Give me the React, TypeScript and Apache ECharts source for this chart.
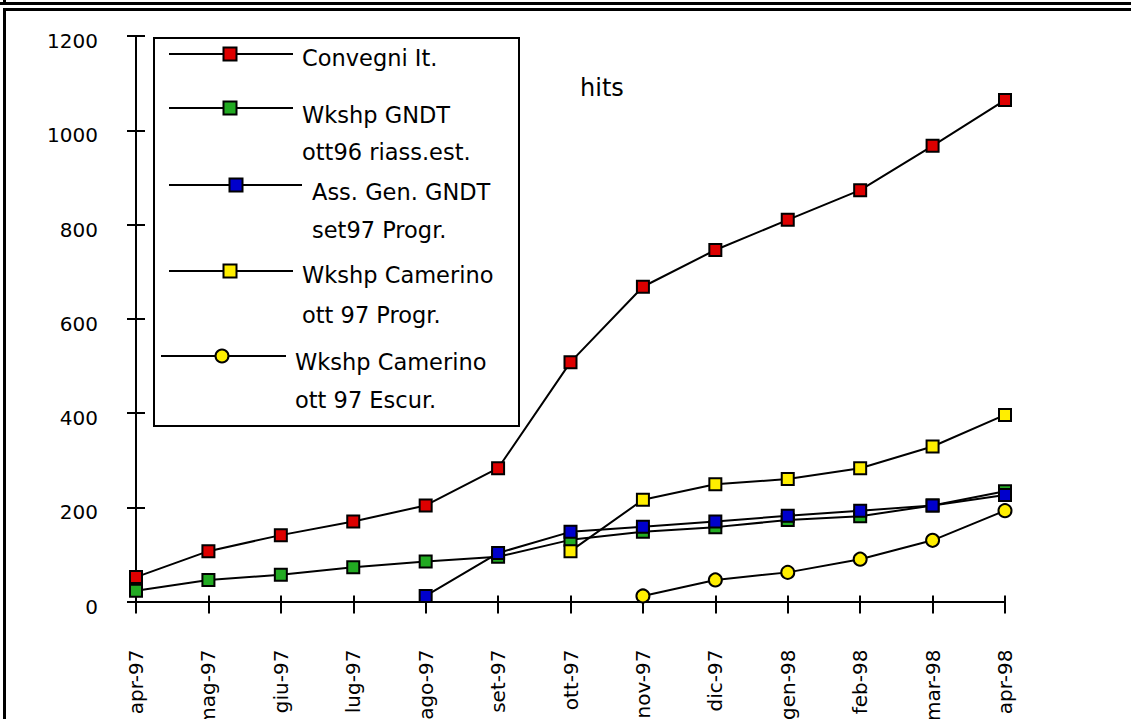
import React, { useEffect, useRef } from "react";
import * as echarts from "echarts";

const categories = ["apr-97", "mag-97", "giu-97", "lug-97", "ago-97", "set-97", "ott-97", "nov-97", "dic-97", "gen-98", "feb-98", "mar-98", "apr-98"];
const convegni = [52, 107, 141, 170, 204, 283, 508, 668, 746, 810, 873, 967, 1064];
const gndt = [23, 46, 57, 73, 85, 95, 131, 148, 158, 173, 181, 204, 234];
const assGen = [null, null, null, null, 12, 103, 148, 159, 170, 182, 193, 204, 226];
const camProgr = [null, null, null, null, null, null, 107, 216, 249, 260, 283, 329, 396];
const camEscur = [null, null, null, null, null, null, null, 12, 46, 62, 90, 130, 193];
const yTicks = { min: 0, max: 1200, interval: 200 };

const seriesDefs = [
  { name: "Convegni It.", data: convegni, color: "#dd0000", symbol: "rect" },
  { name: "Wkshp GNDT ott96 riass.est.", data: gndt, color: "#22aa22", symbol: "rect" },
  { name: "Ass. Gen. GNDT set97 Progr.", data: assGen, color: "#0000cc", symbol: "rect" },
  { name: "Wkshp Camerino ott 97 Progr.", data: camProgr, color: "#ffee00", symbol: "rect" },
  { name: "Wkshp Camerino ott 97 Escur.", data: camEscur, color: "#ffee00", symbol: "circle" },
];

const legendRows = [
  { lines: ["Convegni It."], lineY: 54, x1: 169, x2: 293, mx: 230, tx: 302, ty: [58] },
  { lines: ["Wkshp GNDT", "ott96 riass.est."], lineY: 108, x1: 169, x2: 293, mx: 230, tx: 302, ty: [115, 152] },
  { lines: ["Ass. Gen. GNDT", "set97 Progr."], lineY: 185, x1: 169, x2: 302, mx: 236, tx: 312, ty: [192, 230] },
  { lines: ["Wkshp Camerino", "ott 97 Progr."], lineY: 271, x1: 169, x2: 293, mx: 230, tx: 302, ty: [275, 315] },
  { lines: ["Wkshp Camerino", "ott 97 Escur."], lineY: 356, x1: 161, x2: 286, mx: 222, tx: 295, ty: [362, 400] },
];

const FONT = "DejaVu Sans";

export default function App() {
  const ref = useRef<HTMLDivElement>(null);
  useEffect(() => {
    document.body.style.margin = "0";
    const chart = echarts.init(ref.current!, null, { renderer: "svg" });
    const graphics: any[] = [];
    // frame
    graphics.push({ type: "line", shape: { x1: 0, y1: 3.5, x2: 1131, y2: 3.5 }, style: { stroke: "#000", lineWidth: 3 } });
    graphics.push({ type: "line", shape: { x1: 4.5, y1: 0, x2: 4.5, y2: 4 }, style: { stroke: "#000", lineWidth: 3 } });
    graphics.push({ type: "line", shape: { x1: 3, y1: 9.5, x2: 1131, y2: 9.5 }, style: { stroke: "#000", lineWidth: 3 } });
    graphics.push({ type: "line", shape: { x1: 4.5, y1: 8, x2: 4.5, y2: 719 }, style: { stroke: "#000", lineWidth: 3 } });
    // legend box
    graphics.push({ type: "rect", shape: { x: 154, y: 38, width: 365, height: 388 }, style: { fill: "#fff", stroke: "#000", lineWidth: 2 }, z: 10 });
    legendRows.forEach((r, i) => {
      const def = seriesDefs[i];
      graphics.push({ type: "line", shape: { x1: r.x1, y1: r.lineY, x2: r.x2, y2: r.lineY }, style: { stroke: "#000", lineWidth: 2 }, z: 11 });
      if (def.symbol === "circle") {
        graphics.push({ type: "circle", shape: { cx: r.mx, cy: r.lineY, r: 6.5 }, style: { fill: def.color, stroke: "#000", lineWidth: 2 }, z: 12 });
      } else {
        graphics.push({ type: "rect", shape: { x: r.mx - 6.5, y: r.lineY - 6.5, width: 13, height: 13 }, style: { fill: def.color, stroke: "#000", lineWidth: 2 }, z: 12 });
      }
      r.lines.forEach((t, j) => {
        graphics.push({ type: "text", x: r.tx, y: r.ty[j], style: { text: t, fill: "#000", font: `22.5px "${FONT}"`, verticalAlign: "middle", align: "left" }, z: 12 });
      });
    });
    graphics.push({ type: "text", x: 580, y: 88, style: { text: "hits", fill: "#000", font: `24px "${FONT}"`, verticalAlign: "middle", align: "left" }, z: 12 });

    chart.setOption({
      animation: false,
      textStyle: { fontFamily: FONT },
      grid: { left: 136, right: 126, top: 36, bottom: 117.4, containLabel: false, outerBoundsMode: "none" },
      xAxis: [
        {
          type: "category",
          data: categories,
          boundaryGap: false,
          axisLine: { lineStyle: { color: "#000", width: 2 } },
          axisTick: { show: true, inside: false, length: 12, lineStyle: { color: "#000", width: 2 } },
          axisLabel: { rotate: 90, margin: 48, color: "#000", fontSize: 20, fontFamily: FONT, interval: 0 },
          splitLine: { show: false },
        },
        {
          type: "category",
          data: categories,
          boundaryGap: false,
          position: "bottom",
          axisLine: { show: false },
          axisTick: { show: true, inside: true, length: 6, lineStyle: { color: "#000", width: 2 } },
          axisLabel: { show: false },
          splitLine: { show: false },
        },
      ],
      yAxis: [
        {
          type: "value",
          min: yTicks.min,
          max: yTicks.max,
          interval: yTicks.interval,
          axisLine: { show: true, lineStyle: { color: "#000", width: 2 } },
          axisTick: { show: true, inside: false, length: 9, lineStyle: { color: "#000", width: 2 } },
          axisLabel: {
            margin: 38,
            color: "#000",
            fontSize: 20,
            fontFamily: FONT,
            verticalAlign: "top",
            lineHeight: 10,
            formatter: (v: number) => String(v),
          },
          splitLine: { show: false },
        },
        {
          type: "value",
          min: yTicks.min,
          max: yTicks.max,
          interval: yTicks.interval,
          position: "left",
          axisLine: { show: false },
          axisTick: { show: true, inside: true, length: 9, lineStyle: { color: "#000", width: 2 } },
          axisLabel: { show: false },
          splitLine: { show: false },
        },
      ],
      series: seriesDefs.map((d, i) => ({
        name: d.name,
        type: "line",
        data: d.data,
        xAxisIndex: 0,
        yAxisIndex: 0,
        symbol: d.symbol,
        symbolSize: d.symbol === "circle" ? 13 : 12,
        showSymbol: true,
        connectNulls: false,
        lineStyle: { color: "#000", width: 2 },
        itemStyle: { color: d.color, borderColor: "#000", borderWidth: 2 },
        z: 2 + i,
      })),
      graphic: graphics,
    });
    return () => chart.dispose();
  }, []);
  return <div ref={ref} style={{ width: 1131, height: 719 }} />;
}
